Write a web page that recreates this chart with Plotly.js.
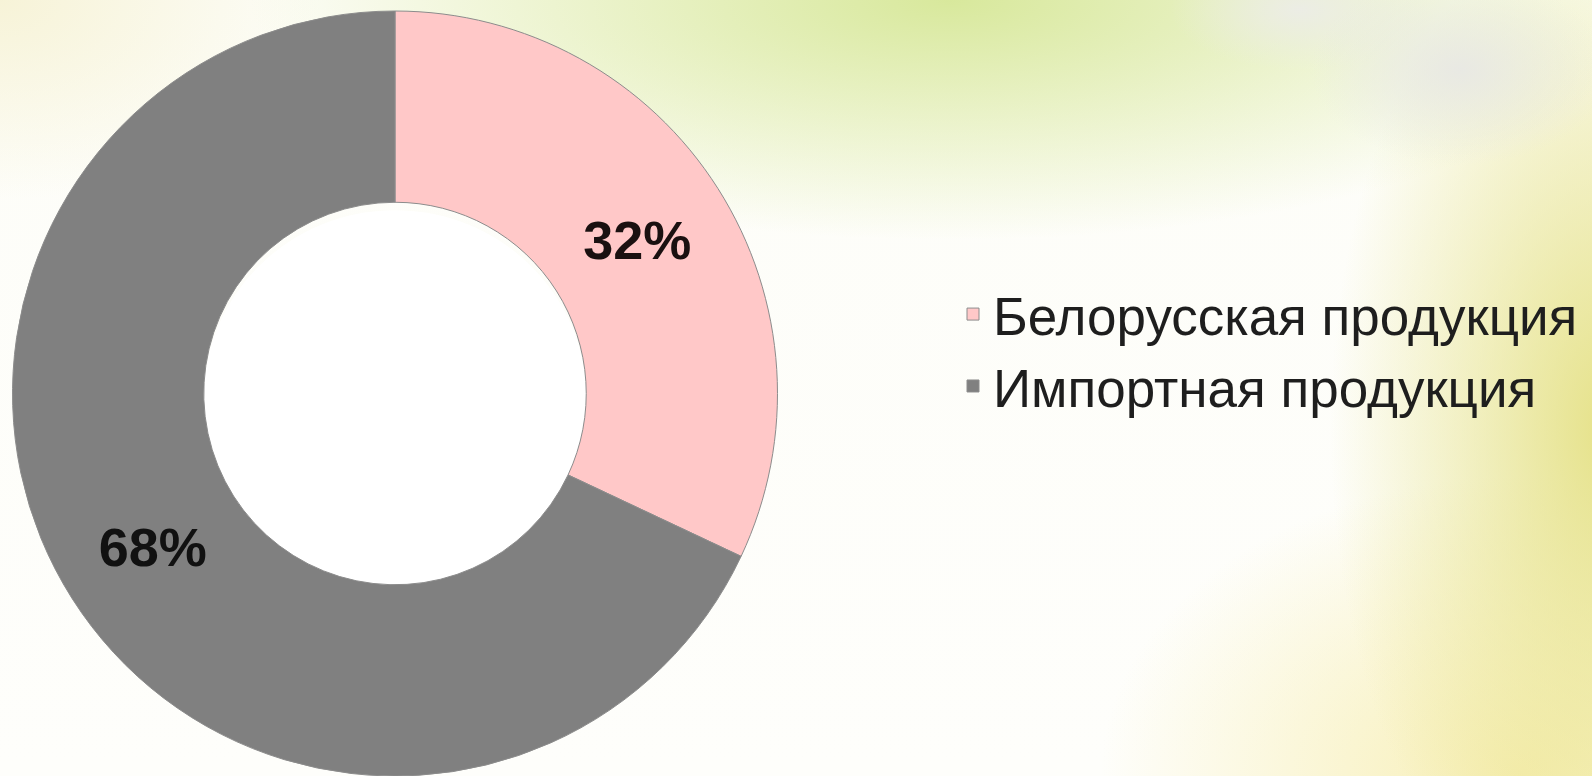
<!DOCTYPE html>
<html>
<head>
<meta charset="utf-8">
<script src="https://cdn.plot.ly/plotly-3.0.1.min.js"></script>
<style>
  html, body { margin: 0; padding: 0; width: 1592px; height: 776px; overflow: hidden; }
  body {
    background:
      radial-gradient(ellipse 150px 95px at 1460px 70px, rgba(232,232,228,0.95), rgba(236,236,232,0) 100%),
      radial-gradient(ellipse 130px 60px at 1300px 10px, rgba(236,236,232,0.9), rgba(236,236,232,0) 100%),
      radial-gradient(ellipse 700px 240px at 950px 0px, rgba(212,230,146,0.9), rgba(212,230,146,0) 100%),
      radial-gradient(ellipse 280px 520px at 1610px 430px, rgba(228,224,130,0.95), rgba(228,224,130,0) 100%),
      radial-gradient(ellipse 420px 300px at 1520px 776px, rgba(246,236,168,0.85), rgba(246,236,168,0) 100%),
      radial-gradient(ellipse 320px 200px at 0px 0px, rgba(246,242,212,0.9), rgba(246,242,212,0) 100%),
      linear-gradient(#fdfdf8, #fefefb);
  }
  #chart { width: 1592px; height: 776px; }
</style>
</head>
<body>
<div id="chart"></div>
<script>
const labels = ["Белорусская продукция", "Импортная продукция"];
const values = [32, 68];
const sliceColors = ["#FFC8C8", "#808080"];

const trace = {
  type: "pie",
  labels: labels,
  values: values,
  hole: 0.5,
  sort: false,
  direction: "clockwise",
  rotation: 0,
  textinfo: "percent",
  textposition: "inside",
  insidetextorientation: "horizontal",
  insidetextfont: { family: "Liberation Sans, Arial, sans-serif", size: 54, weight: "bold", color: ["#1a1010", "#111111"] },
  marker: { colors: sliceColors, line: { color: "#8c8c8c", width: 1 } },
  domain: { x: [12.5 / 1592, 777.5 / 1592], y: [0, 1] },
  hoverinfo: "label+percent"
};

const layout = {
  width: 1592,
  height: 776,
  margin: { l: 0, r: 0, t: 11, b: 0 },
  paper_bgcolor: "rgba(0,0,0,0)",
  plot_bgcolor: "rgba(0,0,0,0)",
  showlegend: true,
  shapes: [{
    type: "circle", xref: "paper", yref: "paper",
    x0: 203.5 / 1592, x1: 586.5 / 1592,
    y0: (776 - 585) / 776, y1: (776 - 202) / 776,
    fillcolor: "#ffffff", line: { width: 0 }, layer: "below"
  }],
  legend: {
    x: 953 / 1592,
    xanchor: "left",
    y: (776 - 344) / 776,
    yanchor: "middle",
    bgcolor: "rgba(0,0,0,0)",
    font: { family: "Liberation Sans, Arial, sans-serif", size: 53, color: "#1e1e1e" },
    traceorder: "normal"
  }
};

Plotly.newPlot("chart", [trace], layout, { displayModeBar: false, staticPlot: true });
</script>
</body>
</html>
